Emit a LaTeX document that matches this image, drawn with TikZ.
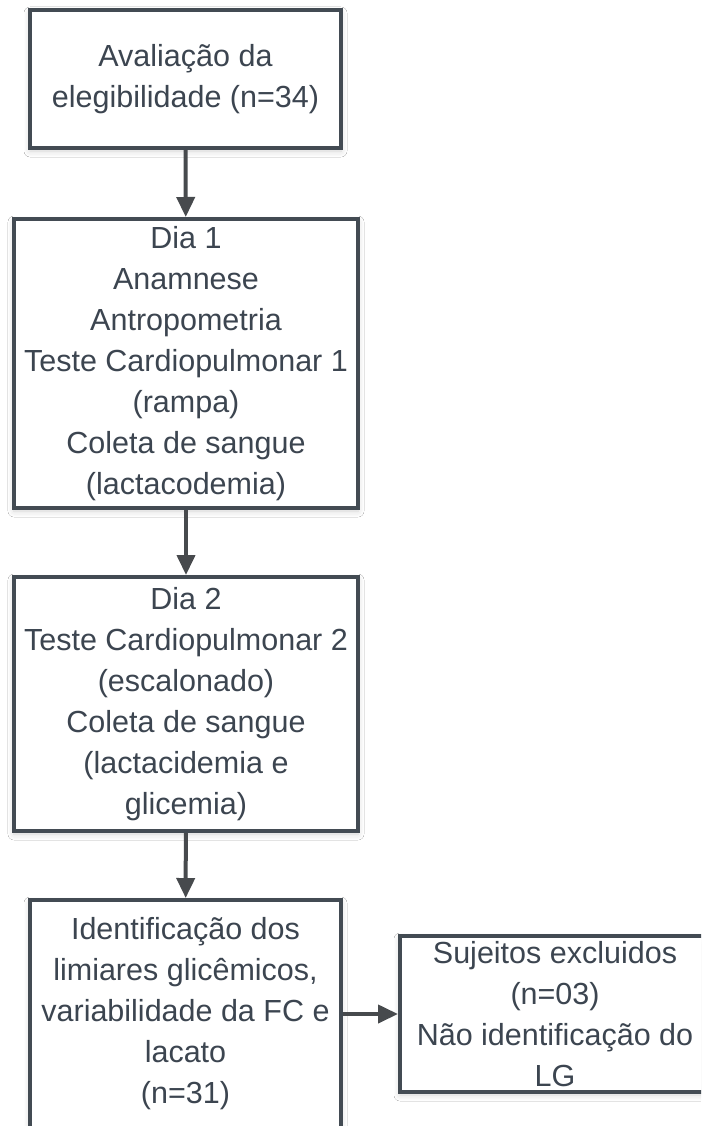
\documentclass[tikz,border=0pt]{standalone}
\usepackage{fontspec}
\setmainfont{Liberation Sans}
\usetikzlibrary{arrows.meta,shadows.blur}
\definecolor{boxline}{HTML}{434B53}
\definecolor{txt}{HTML}{3C4550}
\definecolor{arr}{HTML}{474A4D}
\tikzset{
  flowbox/.style={draw=boxline, line width=4pt, fill=white, text=txt,
    align=center, inner sep=0pt, font=\fontsize{30.5}{41}\selectfont,
    blur shadow={shadow xshift=0pt, shadow yshift=-3pt, shadow blur steps=6, shadow opacity=18, shadow blur radius=6pt}},
  flowarrow/.style={draw=arr, line width=4pt, -{Triangle[width=18pt,length=20pt]}}
}
\begin{document}
\begin{tikzpicture}[x=1pt,y=-1pt]
\clip (0,0) rectangle (701,1126);
\fill[white] (0,0) rectangle (701,1126);
\node[flowbox, minimum width=311pt, minimum height=138pt] (b1) at (185.5,79) {Avaliação da\\elegibilidade (n=34)};
\node[flowbox, minimum width=344pt, minimum height=289pt] (b2) at (186,363.5) {Dia 1\\Anamnese\\Antropometria\\Teste Cardiopulmonar 1\\(rampa)\\Coleta de sangue\\(lactacodemia)};
\node[flowbox, minimum width=344pt, minimum height=254pt] (b3) at (186,704) {Dia 2\\Teste Cardiopulmonar 2\\(escalonado)\\Coleta de sangue\\(lactacidemia e\\glicemia)};
\node[flowbox, minimum width=311pt, minimum height=228pt] (b4) at (185.5,1014) {Identificação dos\\limiares glicêmicos,\\variabilidade da FC e\\lacato\\(n=31)};
\node[flowbox, minimum width=310pt, minimum height=156pt] (b5) at (555,1014) {Sujeitos excluidos\\(n=03)\\Não identificação do\\LG};
\draw[flowarrow] (b1) -- (b2);
\draw[flowarrow] (b2) -- (b3);
\draw[flowarrow] (b3) -- (b4);
\draw[flowarrow] (b4) -- (b5);
\end{tikzpicture}
\end{document}
